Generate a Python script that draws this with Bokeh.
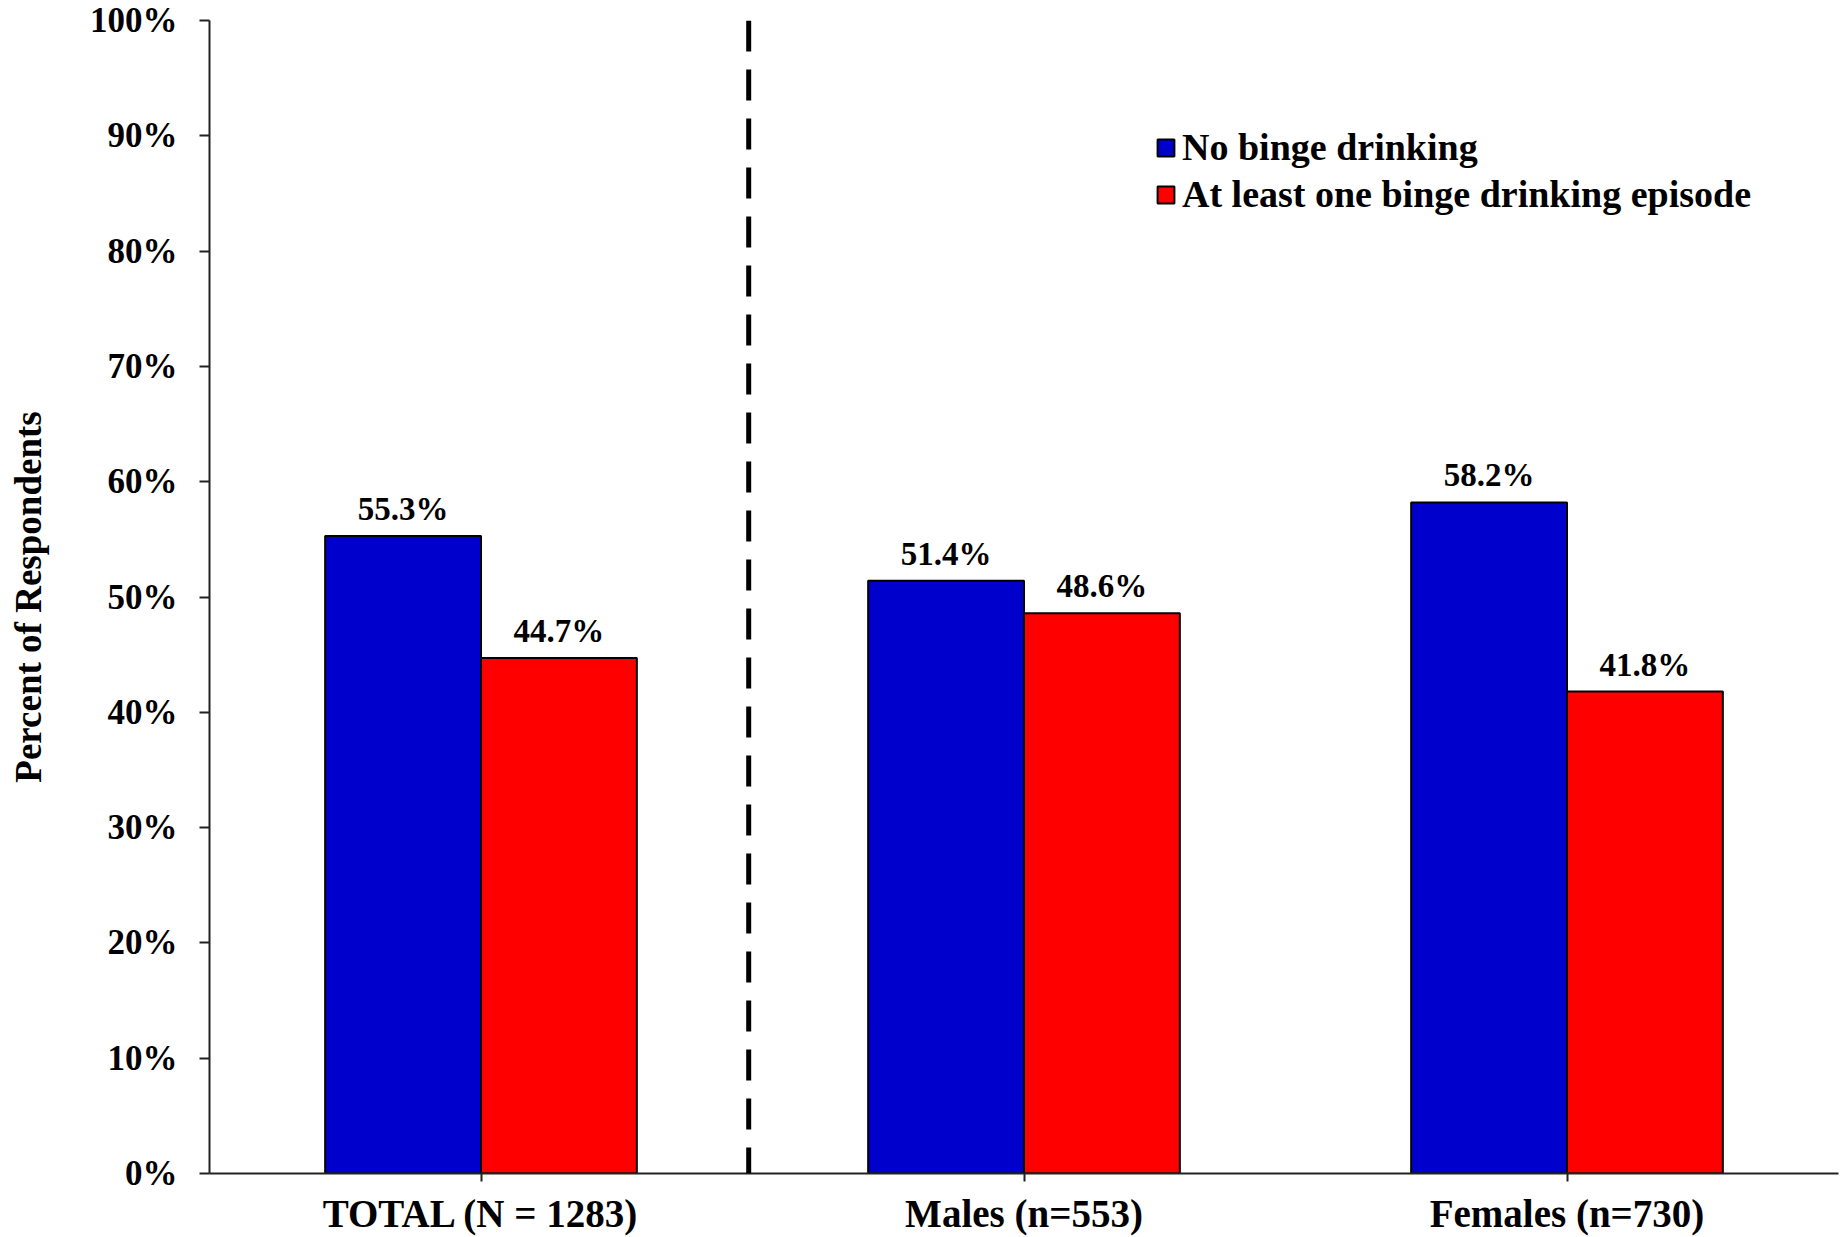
from bokeh.plotting import figure
from bokeh.models import ColumnDataSource, FactorRange, Range1d, FixedTicker, Span
from bokeh.transform import dodge
from bokeh.core.properties import value
from bokeh.embed import file_html
from bokeh.resources import INLINE

# Binge drinking among respondents, overall and by sex
groups = ["TOTAL (N = 1283)", "Males (n=553)", "Females (n=730)"]
no_binge = [55.3, 51.4, 58.2]
binge = [44.7, 48.6, 41.8]
y_ticks = [0, 10, 20, 30, 40, 50, 60, 70, 80, 90, 100]

FONT = value("Liberation Serif")
BLUE = "#0000CC"
RED = "#FF0000"

source = ColumnDataSource(dict(
    group=groups,
    no_binge=no_binge,
    binge=binge,
    no_lbl=[f"{v:.1f}%" for v in no_binge],
    binge_lbl=[f"{v:.1f}%" for v in binge],
))

p = figure(
    x_range=FactorRange(*groups, range_padding=0),
    y_range=Range1d(0, 100),
    width=1840, height=1237,
    output_backend="svg", toolbar_location=None,
    min_border_left=209, min_border_right=2,
    min_border_top=20, min_border_bottom=62,
)
p.outline_line_color = None
p.xgrid.grid_line_color = None
p.ygrid.grid_line_color = None
p.background_fill_color = "white"
p.border_fill_color = "white"

bar_w = 0.287
off = bar_w / 2

p.vbar(x=dodge("group", -off, range=p.x_range), top="no_binge", width=bar_w,
       source=source, fill_color=BLUE, line_color="black", line_width=2,
       legend_label="No binge drinking")
p.vbar(x=dodge("group", off, range=p.x_range), top="binge", width=bar_w,
       source=source, fill_color=RED, line_color="black", line_width=2,
       legend_label="At least one binge drinking episode")

for col, lbl, dx in (("no_binge", "no_lbl", -off), ("binge", "binge_lbl", off)):
    p.text(x=dodge("group", dx, range=p.x_range), y=col, text=lbl, source=source,
           y_offset=-9, text_align="center", text_baseline="bottom",
           text_font=FONT, text_font_style="bold", text_font_size="33px",
           text_color="black")

# separator between the total and the sex breakdown
p.add_layout(Span(location=0.993, dimension="height", line_color="black",
                  line_width=5, line_dash="31 18"))

# axes
for ax in (p.xaxis[0], p.yaxis[0]):
    ax.axis_line_color = "#222222"
    ax.axis_line_width = 2
    ax.major_tick_line_color = "#222222"
    ax.major_tick_line_width = 2
    ax.major_tick_in = 0
    ax.minor_tick_line_color = None
    ax.major_label_text_font = "Liberation Serif"
    ax.major_label_text_font_style = "bold"
    ax.major_label_text_color = "black"

p.yaxis.ticker = FixedTicker(ticks=y_ticks)
p.yaxis.major_label_overrides = {t: f"{t}%" for t in y_ticks}
p.yaxis.major_tick_out = 10
p.yaxis.major_label_standoff = 22
p.yaxis.major_label_text_font_size = "35px"
p.yaxis.axis_label = "Percent of Respondents"
p.yaxis.axis_label_text_font = "Liberation Serif"
p.yaxis.axis_label_text_font_style = "bold"
p.yaxis.axis_label_text_font_size = "37px"
p.yaxis.axis_label_text_color = "black"
p.yaxis.axis_label_standoff = 38

p.xaxis.major_tick_out = 8
p.xaxis.major_label_standoff = 10
p.xaxis.major_label_text_font_size = "39px"

leg = p.legend[0]
leg.location = (946, 957)
leg.padding = 0
leg.margin = 0
leg.spacing = 3
leg.background_fill_alpha = 0
leg.border_line_alpha = 0
leg.glyph_width = 21
leg.glyph_height = 21
leg.label_standoff = 6
leg.label_height = 38
leg.label_text_font = "Liberation Serif"
leg.label_text_font_style = "bold"
leg.label_text_font_size = "38px"
leg.label_text_color = "black"

open("out.html", "w").write(file_html(p, INLINE))
